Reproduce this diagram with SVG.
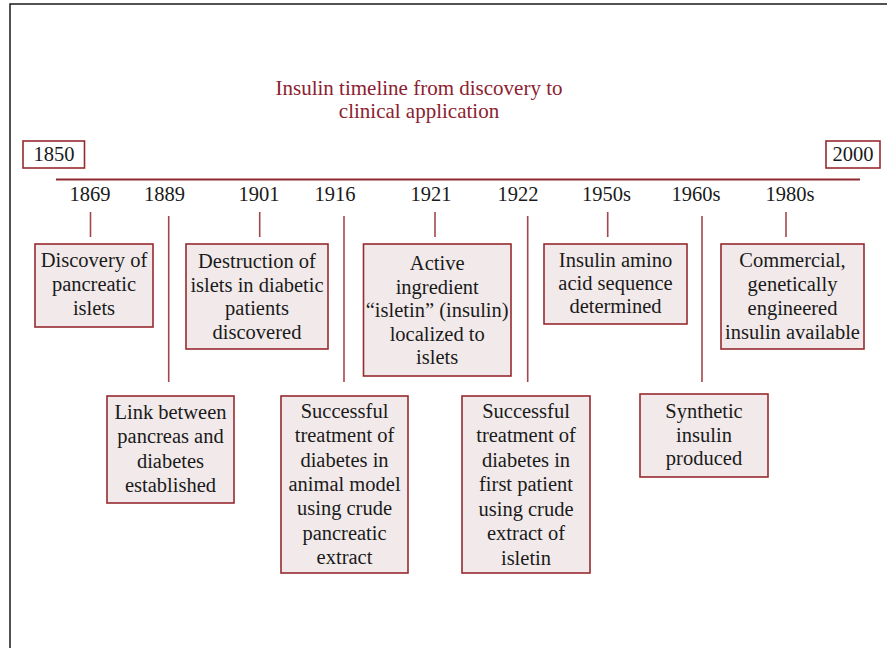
<svg xmlns="http://www.w3.org/2000/svg" width="887" height="648" viewBox="0 0 887 648">
<style>
text{font-family:"Liberation Serif","Times New Roman",serif;font-size:20.5px;fill:#1a1a1a;text-anchor:middle}
.title{fill:#8b2230;font-size:21px}
.box{fill:#f2eaea;stroke:#962a30;stroke-width:1.6}
.end{fill:#ffffff;stroke:#962a30;stroke-width:1.6}
.tick{stroke:#a4474c;stroke-width:1.6;fill:none}
.axis{stroke:#8e2a30;stroke-width:1.8;fill:none}
</style>
<rect width="887" height="648" fill="#ffffff"/>
<path d="M10 648 V4 H887" fill="none" stroke="#1a1a1a" stroke-width="1.5"/>
<g id="title">
<text class="title" x="419" y="95">Insulin timeline from discovery to</text>
<text class="title" x="419" y="118">clinical application</text>
</g>
<g id="start">
<rect class="end" x="23" y="141" width="61.5" height="27"/>
<text x="54" y="161">1850</text>
</g>
<g id="finish">
<rect class="end" x="826" y="141" width="54" height="27"/>
<text x="853" y="161">2000</text>
</g>
<g id="years">
<text x="90" y="200.5">1869</text>
<text x="164.5" y="200.5">1889</text>
<text x="259" y="200.5">1901</text>
<text x="335" y="200.5">1916</text>
<text x="431" y="200.5">1921</text>
<text x="518" y="200.5">1922</text>
<text x="606.5" y="200.5">1950s</text>
<text x="696" y="200.5">1960s</text>
<text x="790" y="200.5">1980s</text>
</g>
<g id="connectors">
<line class="axis" x1="56" y1="179.5" x2="860" y2="179.5"/>
<line class="tick" x1="90.5" y1="212" x2="90.5" y2="237"/>
<line class="tick" x1="259.7" y1="212" x2="259.7" y2="237"/>
<line class="tick" x1="435" y1="212" x2="435" y2="237"/>
<line class="tick" x1="607.7" y1="212" x2="607.7" y2="237"/>
<line class="tick" x1="786" y1="212" x2="786" y2="237"/>
<line class="tick" x1="168.7" y1="216" x2="168.7" y2="382"/>
<line class="tick" x1="344" y1="216" x2="344" y2="382"/>
<line class="tick" x1="527.7" y1="216" x2="527.7" y2="382"/>
<line class="tick" x1="702" y1="216" x2="702" y2="382"/>
</g>
<g id="n1869">
<rect class="box" x="35" y="244" width="118" height="83"/>
<text x="94" y="267">Discovery of</text>
<text x="94" y="291">pancreatic</text>
<text x="94" y="315">islets</text>
</g>
<g id="n1889">
<rect class="box" x="107" y="396" width="127" height="107"/>
<text x="170.5" y="418.5">Link between</text>
<text x="170.5" y="443">pancreas and</text>
<text x="170.5" y="467.5">diabetes</text>
<text x="170.5" y="492">established</text>
</g>
<g id="n1901">
<rect class="box" x="186" y="244" width="142" height="105"/>
<text x="257" y="268">Destruction of</text>
<text x="257" y="291.5">islets in diabetic</text>
<text x="257" y="315">patients</text>
<text x="257" y="338.5">discovered</text>
</g>
<g id="n1916">
<rect class="box" x="281" y="396" width="127" height="177"/>
<text x="344.5" y="418">Successful</text>
<text x="344.5" y="442.3">treatment of</text>
<text x="344.5" y="466.6">diabetes in</text>
<text x="344.5" y="490.9">animal model</text>
<text x="344.5" y="515.2">using crude</text>
<text x="344.5" y="539.5">pancreatic</text>
<text x="344.5" y="563.8">extract</text>
</g>
<g id="n1921">
<rect class="box" x="363.5" y="244" width="147.5" height="132"/>
<text x="437.2" y="270">Active</text>
<text x="437.2" y="293.5">ingredient</text>
<text x="437.2" y="317">“isletin” (insulin)</text>
<text x="437.2" y="340.5">localized to</text>
<text x="437.2" y="364">islets</text>
</g>
<g id="n1922">
<rect class="box" x="462" y="396" width="128" height="177"/>
<text x="526" y="417.5">Successful</text>
<text x="526" y="442">treatment of</text>
<text x="526" y="466.5">diabetes in</text>
<text x="526" y="491">first patient</text>
<text x="526" y="515.5">using crude</text>
<text x="526" y="540">extract of</text>
<text x="526" y="564.5">isletin</text>
</g>
<g id="n1950s">
<rect class="box" x="544" y="244" width="143" height="80"/>
<text x="615.5" y="267">Insulin amino</text>
<text x="615.5" y="290">acid sequence</text>
<text x="615.5" y="313">determined</text>
</g>
<g id="n1960s">
<rect class="box" x="640" y="394" width="128" height="83"/>
<text x="704" y="418">Synthetic</text>
<text x="704" y="442">insulin</text>
<text x="704" y="465">produced</text>
</g>
<g id="n1980s">
<rect class="box" x="721" y="244" width="143" height="105"/>
<text x="792.5" y="267">Commercial,</text>
<text x="792.5" y="291">genetically</text>
<text x="792.5" y="315">engineered</text>
<text x="792.5" y="339">insulin available</text>
</g>
</svg>
